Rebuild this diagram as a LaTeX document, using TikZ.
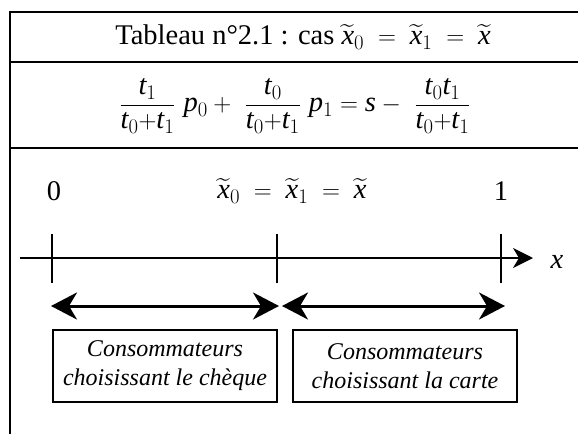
\documentclass[tikz,border=0pt]{standalone}
\usepackage{fontspec}
\setmainfont{Liberation Serif}
\usepackage{amsmath}
\usepackage{tikz}
\usetikzlibrary{positioning, arrows.meta}
\newcommand{\xtil}[1]{\widetilde{\mathit{x}}_{#1}}
\newcommand{\frt}[1]{\dfrac{#1}{\mathit{t}_0{+}\mathit{t}_1}}

\begin{document}
\begin{tikzpicture}[x=1pt, y=-1pt,
    cadre/.style={line width=2pt},
    graduation/.style={line width=1.2pt},
    grand/.style={font=\fontsize{28.5}{32}\selectfont},
    axe/.style={line width=1.4pt, -{Stealth[length=20pt, width=20pt, inset=6pt]}},
    fleche/.style={line width=3pt, {Stealth[length=26pt, width=27pt, inset=8pt]}-{Stealth[length=26pt, width=27pt, inset=8pt]}},
    groupe/.style={draw, line width=1.4pt, minimum width=224pt, minimum height=72pt,
        align=center, font=\fontsize{24}{29}\selectfont\itshape}]
  \useasboundingbox (0,0) rectangle (578,434);
  % cadre du tableau
  \draw[cadre] (578,12) -- (10,12) -- (10,434);
  \draw[cadre] (10,62) -- (578,62);
  \draw[cadre] (10,148) -- (578,148);
  \node[grand] (titre) at (303,37)
    {Tableau n°2.1 : cas $\xtil{0} \;=\; \xtil{1} \;=\; \widetilde{\mathit{x}}$};
  \node[grand] (formule) at (295,106)
    {$\frt{\mathit{t}_1}\hspace{8pt} \mathit{p}_0 +\hspace{8pt} \frt{\mathit{t}_0}\hspace{8pt} \mathit{p}_1 = \mathit{s} -\hspace{8pt} \frt{\mathit{t}_0\mathit{t}_1}$};
  % axe
  \node[grand] (zero) at (54,191) {0};
  \node[grand] (seuil) at (292,191) {$\xtil{0} \;=\; \xtil{1} \;=\; \widetilde{\mathit{x}}$};
  \node[grand] (un) at (501,191) {1};
  \node[grand] (xlab) at (557,262) {$\mathit{x}$};
  \coordinate (ax0) at (20,258);
  \coordinate (ax1) at (533,258);
  \draw[axe] (ax0) -- (ax1);
  \foreach \px in {52,277,501}
    \draw[graduation] (\px,234) -- (\px,283);
  % fleches
  \coordinate (g0) at (51,306);
  \coordinate (g1) at (279,306);
  \coordinate (d0) at (282,306);
  \coordinate (d1) at (505,306);
  \draw[fleche] (g0) -- (g1);
  \draw[fleche] (d0) -- (d1);
  % groupes de consommateurs
  \node[groupe] (cheque) at (165,366) {Consommateurs\\choisissant le chèque};
  \node[groupe] (carte) at (405,366) {Consommateurs\\choisissant la carte};
\end{tikzpicture}
\end{document}
